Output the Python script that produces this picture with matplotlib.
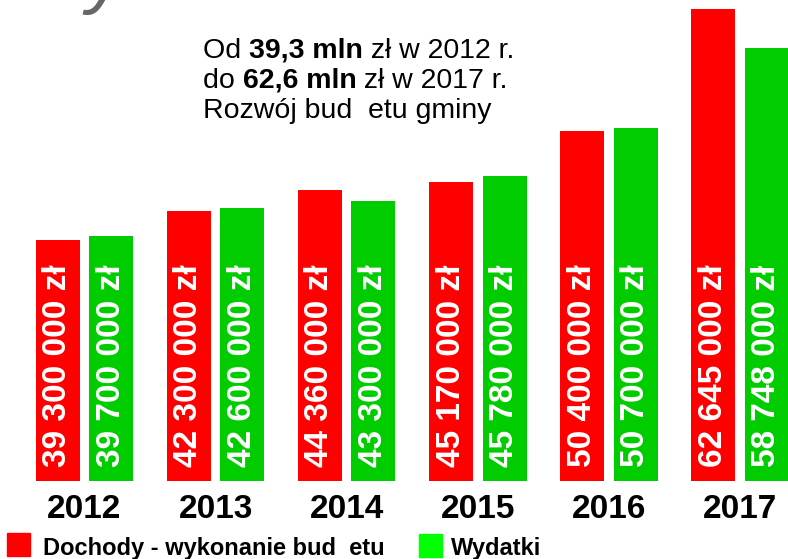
import matplotlib
matplotlib.use("Agg")
import matplotlib.pyplot as plt
import numpy as np

plt.rcParams['font.family'] = ['Liberation Sans', 'DejaVu Sans']

YEARS = ['2012', '2013', '2014', '2015', '2016', '2017']
DOCHODY = [39.300, 42.300, 44.360, 45.170, 50.400, 62.645]   # mln zł
WYDATKI = [39.700, 42.600, 43.300, 45.780, 50.700, 58.748]   # mln zł
LABELS_DOCHODY = ['39 300 000 zł', '42 300 000 zł', '44 360 000 zł',
                  '45 170 000 zł', '50 400 000 zł', '62 645 000 zł']
LABELS_WYDATKI = ['39 700 000 zł', '42 600 000 zł', '43 300 000 zł',
                  '45 780 000 zł', '50 700 000 zł', '58 748 000 zł']
LEGEND = ['Dochody - wykonanie bud  etu', 'Wydatki']

RED = '#ff0000'
GREEN = '#00cc00'
GREEN_LEG = '#00ff00'

W, H = 788, 559
fig = plt.figure(figsize=(W / 100, H / 100), dpi=100)

# os: dolna krawedz slupkow na y=481 px
base_px = 481
ax = fig.add_axes([0, 1 - base_px / H, 1, base_px / H])
v0, scale = 15.0, 9.9   # wartosc na dole osi, px na 1 mln
ax.set_ylim(v0, v0 + base_px / scale)
step = 131.1
ax.set_xlim(-84.5 / step, (W - 84.5) / step)
ax.axis('off')

x = np.arange(len(YEARS))
off = 26.75 / step
bw = 44 / step
ax.bar(x - off, DOCHODY, width=bw, color=RED)
ax.bar(x + off, WYDATKI, width=bw, color=GREEN)

lab_y = v0 + 14 / scale
for i in range(len(YEARS)):
    for xx, t in ((x[i] - off, LABELS_DOCHODY[i]), (x[i] + off, LABELS_WYDATKI[i])):
        ax.text(xx, lab_y, t, rotation=90, rotation_mode='anchor',
                ha='left', va='center', color='white', fontsize=24,
                fontweight='bold')

# lata pod slupkami
for i, yr in enumerate(YEARS):
    xf = (84.5 + i * step) / W
    fig.text(xf, 1 - 518 / H, yr, ha='center', va='baseline',
             fontsize=24, fontweight='bold')

# legenda
fig.patches.append(plt.Rectangle((7 / W, 1 - 556 / H), 23 / W, 23 / H,
                                 transform=fig.transFigure, color=RED))
fig.patches.append(plt.Rectangle((419 / W, 1 - 557 / H), 23 / W, 23 / H,
                                 transform=fig.transFigure, color=GREEN_LEG))
fig.text(43 / W, 1 - 555 / H, LEGEND[0], fontsize=17, fontweight='bold',
         va='baseline')
fig.text(451 / W, 1 - 555 / H, LEGEND[1], fontsize=17, fontweight='bold',
         va='baseline')

# opis z pogrubionymi fragmentami
renderer = fig.canvas.get_renderer()
lines = [
    [('Od ', 'normal'), ('39,3 mln', 'bold'), (' zł w 2012 r.', 'normal')],
    [('do ', 'normal'), ('62,6 mln', 'bold'), (' zł w 2017 r.', 'normal')],
    [('Rozwój bud  etu gminy', 'normal')],
]
baselines = [58, 88, 118]
for parts, by in zip(lines, baselines):
    xp = 203
    for s, w in parts:
        t = fig.text(xp / W, 1 - by / H, s, fontsize=20.5, fontweight=w,
                     va='baseline', ha='left')
        bb = t.get_window_extent(renderer)
        xp += bb.width

# obciety fragment tytulu w lewym gornym rogu
fig.text(86 / W, 1 + 1 / H, 'y', fontsize=56, color='#666666',
         style='italic', va='baseline', ha='left')

fig.savefig('out.png', dpi=100)
